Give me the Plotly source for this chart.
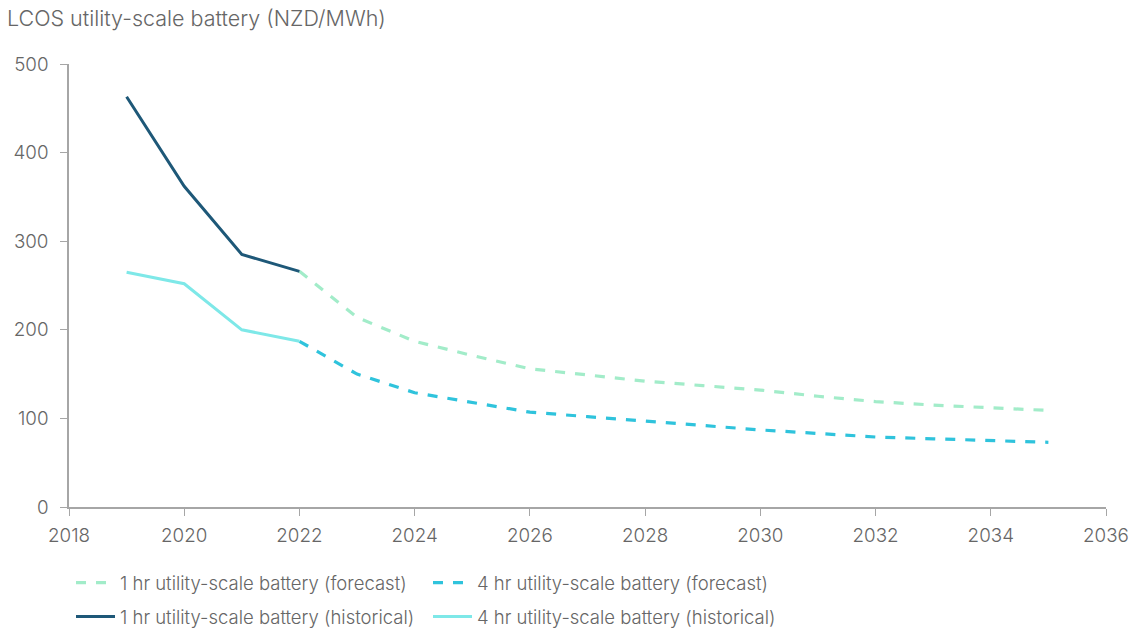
import plotly.graph_objects as go

years_hist = [2019, 2020, 2021, 2022]
hist_1hr = [463, 362, 285, 266]
hist_4hr = [265, 252, 200, 187]

years_fc = [2022, 2023, 2024, 2025, 2026, 2027, 2028, 2029, 2030, 2031, 2032, 2033, 2034, 2035]
fc_1hr = [266, 214, 187, 171, 156, 149, 142, 137, 132, 125, 119, 115, 112, 109]
fc_4hr = [187, 150, 129, 118, 107, 102, 97, 92, 87, 83, 79, 77, 75, 73]

title_text = "LCOS utility-scale battery (NZD/MWh)"
name_1f = "1 hr utility-scale battery (forecast)"
name_4f = "4 hr utility-scale battery (forecast)"
name_1h = "1 hr utility-scale battery (historical)"
name_4h = "4 hr utility-scale battery (historical)"

C_1F = "#a2ecc9"
C_4F = "#2fc3dc"
C_1H = "#1e5878"
C_4H = "#7ee8e8"

FONT = "Inter"
GREY = "#666666"
AXIS = "#a6a6a6"

fig = go.Figure()
fig.add_trace(go.Scatter(x=years_fc, y=fc_1hr, mode="lines", name=name_1f, legend="legend",
                         line=dict(color=C_1F, width=3.2, dash="10px,10px")))
fig.add_trace(go.Scatter(x=years_fc, y=fc_4hr, mode="lines", name=name_4f, legend="legend",
                         line=dict(color=C_4F, width=3.2, dash="10px,10px")))
fig.add_trace(go.Scatter(x=years_hist, y=hist_1hr, mode="lines", name=name_1h, legend="legend2",
                         line=dict(color=C_1H, width=3)))
fig.add_trace(go.Scatter(x=years_hist, y=hist_4hr, mode="lines", name=name_4h, legend="legend2",
                         line=dict(color=C_4H, width=3)))

legend_common = dict(orientation="h", xanchor="left", yanchor="middle",
                     xref="container", yref="container",
                     entrywidth=303, entrywidthmode="pixels", bgcolor="rgba(0,0,0,0)",
                     font=dict(family=FONT, size=18.5, color=GREY, weight=300),
                     itemwidth=39, traceorder="normal")

fig.update_layout(
    width=1138, height=630,
    paper_bgcolor="white", plot_bgcolor="white",
    margin=dict(l=69, r=32, t=64, b=123),
    font=dict(family=FONT, size=18, color=GREY, weight=300),
    title=dict(text=title_text, x=0.0, xanchor="left", y=1 - 18 / 630, yanchor="middle",
               pad=dict(l=7),
               font=dict(family=FONT, size=21.5, color=GREY, weight=300)),
    showlegend=True,
    legend=dict(**legend_common, x=71 / 1138, y=1 - 583 / 630),
    legend2=dict(**legend_common, x=71 / 1138, y=1 - 617 / 630),
    xaxis=dict(range=[2018, 2036], tickmode="linear", tick0=2018, dtick=2, automargin=False,
               showgrid=False, zeroline=False, showline=True, linecolor=AXIS, linewidth=1.5,
               ticks="outside", ticklen=7, tickcolor=AXIS, tickwidth=1.2, ticklabelstandoff=4,
               tickfont=dict(family=FONT, size=18.8, color=GREY, weight=300)),
    yaxis=dict(range=[0, 500], tickmode="linear", tick0=0, dtick=100, automargin=False,
               showgrid=False, zeroline=False, showline=True, linecolor=AXIS, linewidth=1.5,
               ticks="outside", ticklen=7, tickcolor=AXIS, tickwidth=1.2, ticklabelstandoff=8,
               tickfont=dict(family=FONT, size=18.8, color=GREY, weight=300)),
)

fig.write_html("out.html", config={"displayModeBar": False},
               post_script="document.body.style.margin='0px';document.body.style.overflow='hidden';")
